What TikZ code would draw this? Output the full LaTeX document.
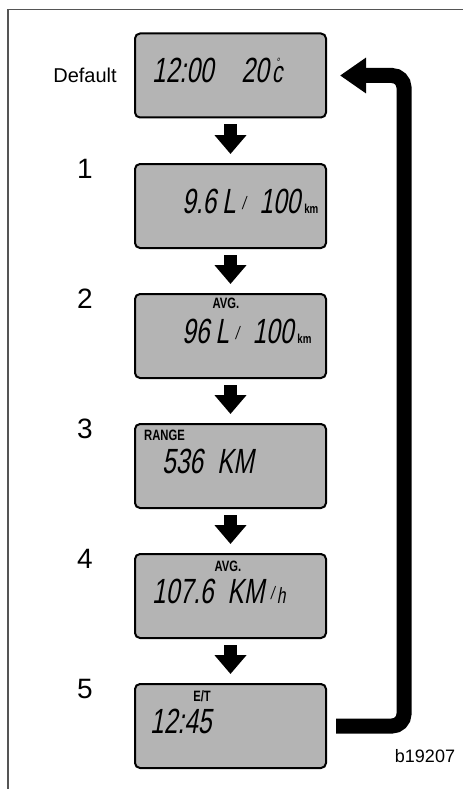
\documentclass[tikz,border=0pt]{standalone}
\usepackage{fontspec}
\setmainfont{Liberation Sans}
\newfontfamily\lcdfont{Liberation Sans}[FakeStretch=0.7,FakeSlant=0.18]
\newfontfamily\tagfont{Liberation Sans}[FakeStretch=0.75]
\usetikzlibrary{arrows.meta}
\definecolor{LcdGray}{RGB}{180,180,180}
\definecolor{FrameGray}{RGB}{85,85,85}

\newcommand{\lcd}{\lcdfont\fontsize{35}{35}\selectfont}
\newcommand{\lcdslash}{\raisebox{4pt}{\fontsize{18}{18}\selectfont /}}
\newcommand{\kmunit}{\hspace{4pt}{\tagfont\bfseries\fontsize{13}{13}\selectfont km}}
\newcommand{\degc}{\hspace{3pt}\rlap{\hspace{4pt}\raisebox{16.5pt}{\fontsize{12}{12}\selectfont °}}{\fontsize{30}{30}\selectfont c}}

\begin{document}
\begin{tikzpicture}[
    x=1pt, y=-1pt,
    display/.style={
        draw,
        line width=2pt,
        rounded corners=5pt,
        fill=LcdGray,
        minimum width=191pt,
        minimum height=84pt,
        inner sep=0pt
    },
    digits/.style={anchor=base west, inner sep=0pt, font=\lcd},
    tag/.style={inner sep=0pt, font=\tagfont\bfseries\fontsize{15}{15}\selectfont},
    steplabel/.style={inner sep=0pt, font=\fontsize{28}{28}\selectfont},
    down/.style={
        -{Triangle[length=19pt,width=31pt]},
        line width=13pt,
        shorten <=6pt,
        shorten >=9pt
    },
    back/.style={
        -{Triangle[length=26pt,width=34pt]},
        line width=15pt,
        rounded corners=12pt,
        shorten <=9pt,
        shorten >=13pt
    }
]
\useasboundingbox (0,0) rectangle (463,789);

% frame
\draw[line width=1.3pt, FrameGray] (8,789) -- (8,9.5) -- (463,9.5);

% =========================
% displays
% =========================
\node[display] (clock)   at (230.5,75.5) {};
\node[display] (instant) at (230.5,206)  {};
\node[display] (average) at (230.5,336)  {};
\node[display] (range)   at (230.5,466)  {};
\node[display] (speed)   at (230.5,596)  {};
\node[display] (elapsed) at (230.5,726)  {};

% step labels
\node[inner sep=0pt, font=\fontsize{20}{20}\selectfont] (lbl0) at (85,75) {Default};
\node[steplabel] (lbl1) at (85,169) {1};
\node[steplabel] (lbl2) at (85,299) {2};
\node[steplabel] (lbl3) at (85,429) {3};
\node[steplabel] (lbl4) at (85,559) {4};
\node[steplabel] (lbl5) at (85,689) {5};

% =========================
% display contents
% =========================
\node[digits] (clockval) at (152,83) {12:00\hspace{28pt}20\degc};

\node[digits] (instantval) at (182,213) {9.6\hspace{6pt}L\hspace{6pt}\lcdslash\hspace{14pt}100\kmunit};

\node[tag] (avgtag1) at (226,303) {AVG.};
\node[digits] (averageval) at (182,343) {96\hspace{6pt}L\hspace{6pt}\lcdslash\hspace{14pt}100\kmunit};

\node[tag, anchor=west] (rangetag) at (144,435) {RANGE};
\node[digits] (rangeval) at (162,473) {536\hspace{14pt}KM};

\node[tag] (avgtag2) at (228,566) {AVG.};
\node[digits] (speedval) at (152,603) {107.6\hspace{14pt}KM\hspace{6pt}\lcdslash\hspace{3pt}{\fontsize{22}{22}\selectfont h}};

\node[tag] (ettag) at (202,696) {E/T};
\node[digits] (elapsedval) at (150,733) {12:45};

% =========================
% arrows
% =========================
\draw[down] (clock) -- (instant);
\draw[down] (instant) -- (average);
\draw[down] (average) -- (range);
\draw[down] (range) -- (speed);
\draw[down] (speed) -- (elapsed);

\draw[back] (elapsed.east) -- ++(77,0) |- (clock.east);

% figure code
\node[inner sep=0pt, font=\fontsize{18}{18}\selectfont] (figcode) at (425,756) {b19207};

\end{tikzpicture}
\end{document}
